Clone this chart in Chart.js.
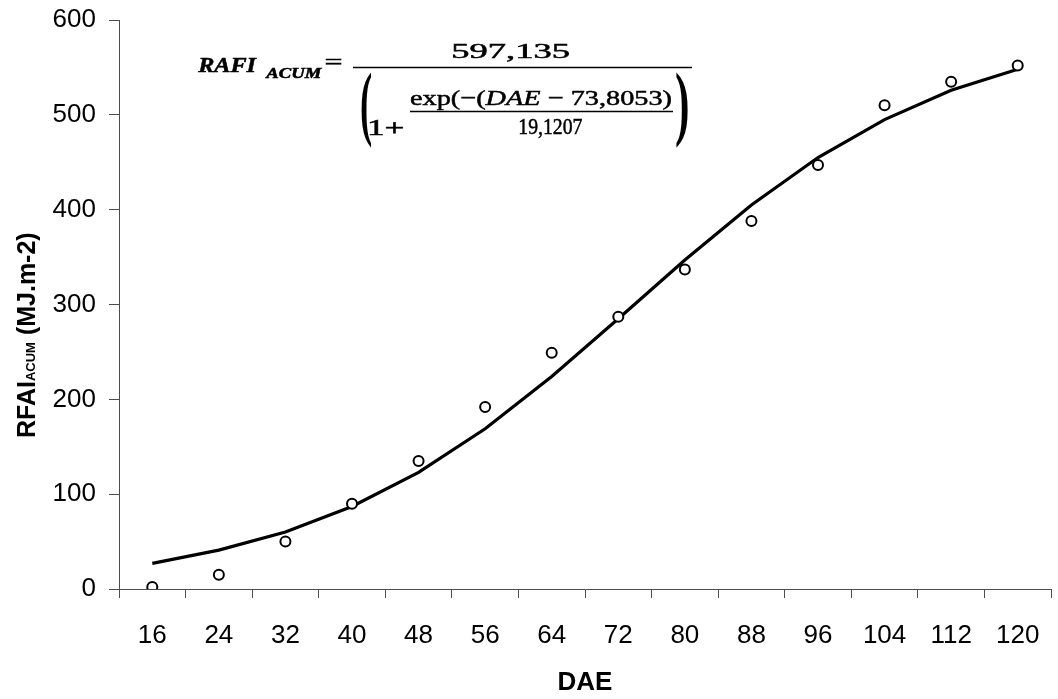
<!DOCTYPE html>
<html>
<head>
<meta charset="utf-8">
<title>RFAI acumulada x DAE</title>
<script src="https://cdn.jsdelivr.net/npm/chart.js@4.4.1/dist/chart.umd.min.js"></script>
<style>
    html, body { margin: 0; padding: 0; background: #fff; }
    #wrap { width: 1058px; height: 699px; }
</style>
</head>
<body>
<div id="wrap"><canvas id="rfaiChart" width="1058" height="699"></canvas></div>
<script>
// Dias apos emergencia (categorias do eixo X)
const dae = ['16', '24', '32', '40', '48', '56', '64', '72', '80', '88', '96', '104', '112', '120'];

const observed = [2, 15, 50, 90, 135, 192, 249, 287, 337, 388, 447, 510, 535, 552];

// Curva ajustada (linha)
const fitted = [27, 41, 60, 87, 123, 169, 224, 285, 347, 405, 455, 495, 526, 548];

const yTicks = [0, 100, 200, 300, 400, 500, 600];

const AXIS_COLOR = '#4d4d4d';
const SANS = '"Liberation Sans", Arial, sans-serif';
const SERIF = '"Liberation Serif", "Times New Roman", serif';

// draw text so its ink spans x0..x1 horizontally, on a given baseline
function fitWidth(ctx, text, font, x0, x1, baseline) {
    ctx.font = font;
    const m = ctx.measureText(text);
    const inkW = m.actualBoundingBoxLeft + m.actualBoundingBoxRight;
    ctx.save();
    ctx.translate(x0, baseline);
    ctx.scale((x1 - x0) / inkW, 1);
    ctx.fillText(text, m.actualBoundingBoxLeft, 0);
    ctx.strokeText(text, m.actualBoundingBoxLeft, 0);
    ctx.restore();
}

// draw text so its ink fills the whole box (used for the tall brackets)
function fitBox(ctx, text, font, x0, y0, x1, y1) {
    ctx.font = font;
    const m = ctx.measureText(text);
    const inkW = m.actualBoundingBoxLeft + m.actualBoundingBoxRight;
    const inkH = m.actualBoundingBoxAscent + m.actualBoundingBoxDescent;
    ctx.save();
    ctx.translate(x0, y0);
    ctx.scale((x1 - x0) / inkW, (y1 - y0) / inkH);
    ctx.fillText(text, m.actualBoundingBoxLeft, m.actualBoundingBoxAscent);
    ctx.restore();
}

// several runs with different fonts squeezed into x0..x1
function fitRuns(ctx, runs, x0, x1, baseline) {
    let total = 0;
    runs.forEach(r => { ctx.font = r[1]; total += ctx.measureText(r[0]).width; });
    ctx.save();
    ctx.translate(x0, baseline);
    ctx.scale((x1 - x0) / total, 1);
    let x = 0;
    runs.forEach(r => {
        ctx.font = r[1];
        ctx.fillText(r[0], x, 0);
        ctx.strokeText(r[0], x, 0);
        x += ctx.measureText(r[0]).width;
    });
    ctx.restore();
}

function hLine(ctx, x0, x1, y, w) {
    ctx.beginPath();
    ctx.lineWidth = w;
    ctx.moveTo(x0, y);
    ctx.lineTo(x1, y);
    ctx.stroke();
}

const extrasPlugin = {
    id: 'extras',
    afterDraw(chart) {
        const ctx = chart.ctx;
        ctx.save();
        ctx.fillStyle = '#000';
        ctx.strokeStyle = '#000';
        ctx.textAlign = 'left';
        ctx.textBaseline = 'alphabetic';

        // Y axis title: RFAI + small ACUM + (MJ.m-2), rotated
        ctx.save();
        ctx.translate(35, 438);
        ctx.rotate(-Math.PI / 2);
        const parts = [
            ['RFAI', 'bold 25px ' + SANS],
            ['ACUM', 'bold 13px ' + SANS],
            [' (MJ.m-2)', 'bold 25px ' + SANS]
        ];
        let x = 0;
        parts.forEach(p => {
            ctx.font = p[1];
            ctx.fillText(p[0], x, 0);
            x += ctx.measureText(p[0]).width;
        });
        ctx.restore();

        // Equation of the fitted curve
        ctx.lineWidth = 0.5;
        fitWidth(ctx, 'RAFI', 'italic bold 21px ' + SERIF, 197, 257, 72);
        fitWidth(ctx, 'ACUM', 'italic bold 14px ' + SERIF, 265, 322, 78);
        fitWidth(ctx, '=', '22px ' + SERIF, 326, 342, 69);
        fitWidth(ctx, '597,135', '20px ' + SERIF, 453, 570, 58);
        hLine(ctx, 353, 692, 67.5, 1.5);
        fitBox(ctx, '(', 'bold 40px ' + SERIF, 361, 72, 372, 149);
        fitBox(ctx, ')', 'bold 40px ' + SERIF, 676, 72, 688, 149);
        ctx.lineWidth = 0.5;
        fitWidth(ctx, '1+', '23px ' + SERIF, 370, 403, 135);
        fitRuns(ctx, [
            ['exp(\u2212(', '22px ' + SERIF],
            ['DAE', 'italic 22px ' + SERIF],
            [' \u2212 73,8053)', '22px ' + SERIF]
        ], 410, 672, 105);
        hLine(ctx, 410, 673, 111.5, 1.5);
        ctx.lineWidth = 0.5;
        fitWidth(ctx, '19,1207', '23px ' + SERIF, 520, 582, 134);

        ctx.restore();
    }
};

const ctx = document.getElementById('rfaiChart').getContext('2d');

new Chart(ctx, {
    type: 'line',
    data: {
        labels: dae,
        datasets: [{
            label: 'Observado',
            data: observed,
            showLine: false,
            pointRadius: 5,
            pointBorderWidth: 2,
            pointBackgroundColor: '#fff',
            pointBorderColor: '#000',
            order: 0
        }, {
            label: 'Ajustado',
            data: fitted,
            borderColor: '#000',
            borderWidth: 3.2,
            pointRadius: 0,
            tension: 0,
            fill: false,
            order: 1
        }]
    },
    options: {
        responsive: false,
        animation: false,
        layout: {
            padding: { left: 0, top: 20, right: 3, bottom: 0 }
        },
        plugins: {
            legend: { display: false },
            tooltip: { enabled: false }
        },
        scales: {
            x: {
                offset: true,
                grid: {
                    offset: true,
                    drawOnChartArea: false,
                    drawTicks: true,
                    tickLength: 9,
                    color: AXIS_COLOR
                },
                border: { display: true, color: AXIS_COLOR, width: 1 },
                ticks: {
                    color: '#000',
                    padding: 22,
                    maxRotation: 0,
                    autoSkip: false,
                    font: { size: 26, family: SANS }
                },
                title: {
                    display: true,
                    text: 'DAE',
                    color: '#000',
                    padding: { top: 0, bottom: 1 },
                    font: { size: 26, weight: 'bold', family: SANS }
                },
                afterFit(scale) {
                    scale.height = 110;
                    scale.paddingLeft = 0;
                    scale.paddingRight = 0;
                }
            },
            y: {
                min: yTicks[0],
                max: yTicks[yTicks.length - 1],
                grid: {
                    drawOnChartArea: false,
                    drawTicks: true,
                    tickLength: 10,
                    color: AXIS_COLOR
                },
                border: { display: true, color: AXIS_COLOR, width: 1 },
                afterBuildTicks(scale) {
                    scale.ticks = yTicks.map(v => ({ value: v }));
                },
                ticks: {
                    color: '#000',
                    padding: 13,
                    font: { size: 26, family: SANS }
                },
                afterFit(scale) {
                    scale.width = 119;
                    scale.paddingTop = 0;
                    scale.paddingBottom = 0;
                }
            }
        }
    },
    plugins: [extrasPlugin]
});
</script>
</body>
</html>
